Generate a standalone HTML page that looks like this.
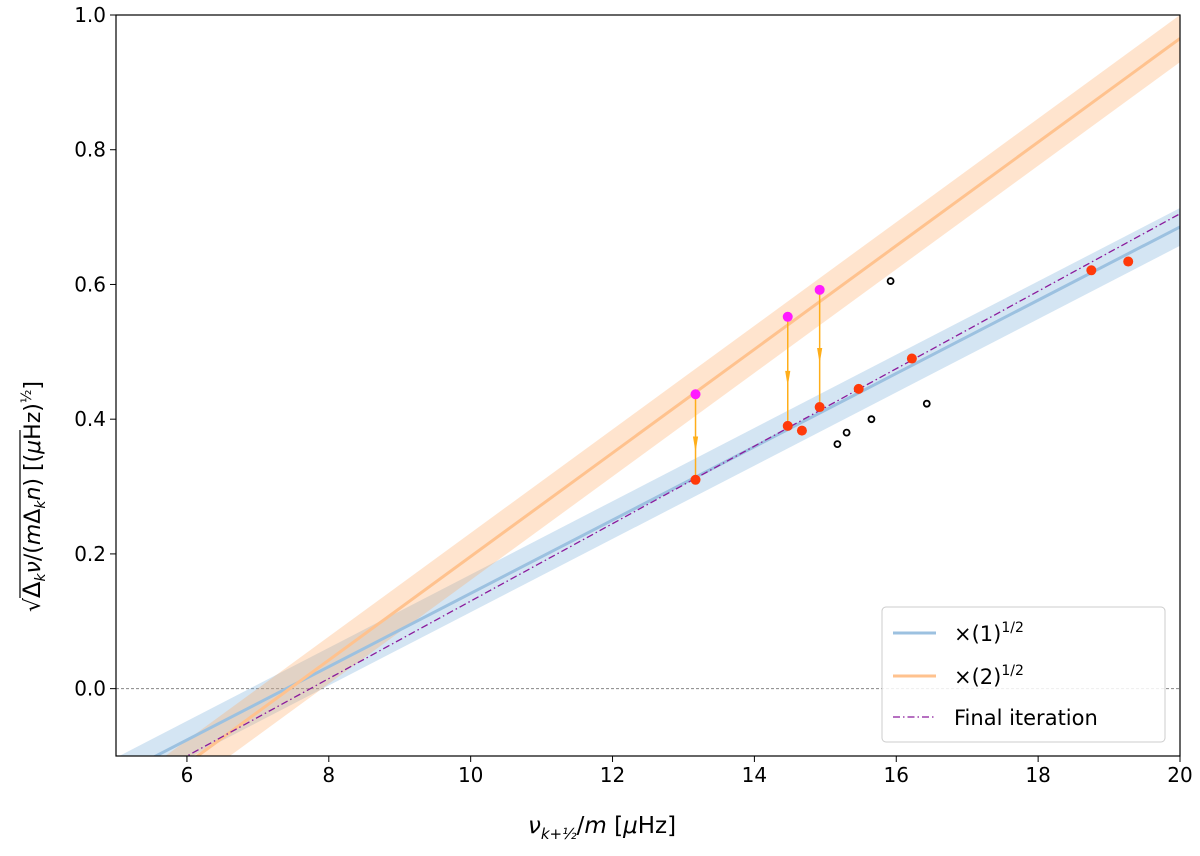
<!DOCTYPE html>
<html><head><meta charset="utf-8"><style>
body{margin:0;background:#fff;}
svg text{font-family:"DejaVu Sans","Liberation Sans",sans-serif;}
</style></head><body>
<svg id="chart" width="1200" height="851" xmlns="http://www.w3.org/2000/svg">
<g id="plot"></g>
</svg>
<script>
const xTicks=[6,8,10,12,14,16,18,20];
const yTicks=[0.0,0.2,0.4,0.6,0.8,1.0];
const blueLine={slope:0.0544,zero:7.4,band:0.028};
const orangeLine={slope:0.0769,zero:7.45,band:0.035};
const finalLine={slope:0.0575,zero:7.74};
const redX=[13.17,14.47,14.67,14.92,15.47,16.22,18.75,19.27];
const redY=[0.31,0.39,0.383,0.418,0.445,0.49,0.621,0.634];
const magX=[13.17,14.47,14.92];
const magY=[0.437,0.552,0.592];
const magTargetY=[0.31,0.39,0.418];
const openX=[15.17,15.3,15.65,15.92,16.43];
const openY=[0.363,0.38,0.4,0.605,0.423];

const L=116,R=1180,T=15,B=756,xmin=5,xmax=20,ymin=-0.1,ymax=1.0;
const sx=v=>L+(v-xmin)/(xmax-xmin)*(R-L);
const sy=v=>B-(v-ymin)/(ymax-ymin)*(B-T);
const NS="http://www.w3.org/2000/svg";
const svg=document.getElementById('chart');
const plot=document.getElementById('plot');
function mk(tag,attrs,parent){const e=document.createElementNS(NS,tag);for(const k in attrs)e.setAttribute(k,attrs[k]);(parent||plot).appendChild(e);return e;}
const defs=mk('defs',{},svg);
const cp=mk('clipPath',{id:'clip'},defs);
mk('rect',{x:L,y:T,width:R-L,height:B-T},cp);
plot.setAttribute('clip-path','url(#clip)');

let z=mk('line',{x1:L,x2:R,y1:sy(0),y2:sy(0),stroke:'#888','stroke-width':1,'stroke-dasharray':'3,2'});



function band(o,color,name){
  const p=`M${sx(xmin)},${sy(o.slope*(xmin-o.zero)+o.band)} L${sx(xmax)},${sy(o.slope*(xmax-o.zero)+o.band)} L${sx(xmax)},${sy(o.slope*(xmax-o.zero)-o.band)} L${sx(xmin)},${sy(o.slope*(xmin-o.zero)-o.band)}Z`;
  const e=mk('path',{d:p,fill:color,'fill-opacity':0.3});
  
  
}
function line(o,color,w,name,dash){
  const e=mk('line',{x1:sx(xmin),y1:sy(o.slope*(xmin-o.zero)),x2:sx(xmax),y2:sy(o.slope*(xmax-o.zero)),stroke:color,'stroke-width':w});
  if(dash)e.setAttribute('stroke-dasharray',dash);
  
  
}
band(blueLine,'#6fa8d6','blue-band');
band(orangeLine,'#ffa55c','orange-band');
line(blueLine,'#9cc1e0',3,'blue-line');
line(orangeLine,'#ffc28e',3,'orange-line');
line(finalLine,'#8b1a9c',1.3,'final-iteration-line','7,3,1.5,3');

magX.forEach((x,i)=>{
  const a=mk('line',{x1:sx(x),y1:sy(magY[i]),x2:sx(x),y2:sy(magTargetY[i]),stroke:'#ffae1a','stroke-width':1.5});
  
  
  const my=(sy(magY[i])+sy(magTargetY[i]))/2+12;
  const h=mk('path',{d:`M${sx(x)-2},${my-12} L${sx(x)+2},${my-12} L${sx(x)},${my}Z`,fill:'#ffae1a',stroke:'#ffae1a'});
  
  
});
redX.forEach((x,i)=>{
  const c=mk('circle',{cx:sx(x),cy:sy(redY[i]),r:5,fill:'#ff3a0a'});
  
  
});
magX.forEach((x,i)=>{
  const c=mk('circle',{cx:sx(x),cy:sy(magY[i]),r:5,fill:'#ff1aff'});
  
  
});
openX.forEach((x,i)=>{
  const c=mk('circle',{cx:sx(x),cy:sy(openY[i]),r:3,fill:'none',stroke:'#000','stroke-width':1.8});
  
  
});

const fr=mk('rect',{x:L,y:T,width:R-L,height:B-T,fill:'none',stroke:'#000','stroke-width':1.2},svg);


xTicks.forEach(t=>{
  mk('line',{x1:sx(t),x2:sx(t),y1:B,y2:B+6,stroke:'#000'},svg);
  const tx=mk('text',{x:sx(t),y:B+26,'text-anchor':'middle','font-size':20},svg);
  tx.textContent=t;
  
  
});
yTicks.forEach(t=>{
  mk('line',{x1:L-6,x2:L,y1:sy(t),y2:sy(t),stroke:'#000'},svg);
  const tx=mk('text',{x:L-10,y:sy(t)+7,'text-anchor':'end','font-size':20},svg);
  tx.textContent=t.toFixed(1);
  
  
});
</script>
<svg style="position:absolute;left:0;top:0" width="1200" height="851" xmlns="http://www.w3.org/2000/svg">
<text x="528" y="833" font-size="23" font-family="DejaVu Sans,sans-serif"><tspan font-style="italic">ν</tspan><tspan font-size="15" dy="6" font-style="italic">k+½</tspan><tspan dy="-6">/</tspan><tspan font-style="italic">m</tspan>  [<tspan font-style="italic">μ</tspan>Hz]</text>
<g transform="translate(40,612) rotate(-90)">
<text x="0" y="0" font-size="22" font-family="DejaVu Sans,sans-serif">√<tspan font-size="24">Δ</tspan><tspan font-size="14" dy="5" font-style="italic">k</tspan><tspan dy="-5" font-style="italic">ν</tspan>/(<tspan font-style="italic">m</tspan>Δ<tspan font-size="14" dy="5" font-style="italic">k</tspan><tspan dy="-5" font-style="italic">n</tspan>)    [(<tspan font-style="italic">μ</tspan>Hz)<tspan font-size="14" dy="-9">½</tspan><tspan dy="9">]</tspan></text>
<line x1="14" y1="-20" x2="182" y2="-20" stroke="#000" stroke-width="1.2"/>
</g>
<g>
<rect x="882" y="607" width="283" height="135" rx="4" fill="#fff" fill-opacity="0.85" stroke="#ccc"/>
<line x1="893" y1="633" x2="936" y2="633" stroke="#9cc1e0" stroke-width="3"/>
<text x="954" y="641" font-size="21" font-family="DejaVu Sans,sans-serif">×(1)<tspan font-size="14" dy="-9">1/2</tspan></text>
<line x1="893" y1="676" x2="936" y2="676" stroke="#ffc28e" stroke-width="3"/>
<text x="954" y="684" font-size="21" font-family="DejaVu Sans,sans-serif">×(2)<tspan font-size="14" dy="-9">1/2</tspan></text>
<line x1="893" y1="717" x2="936" y2="717" stroke="#8b1a9c" stroke-width="1.3" stroke-dasharray="7,3,1.5,3"/>
<text x="954" y="725" font-size="21" font-family="DejaVu Sans,sans-serif">Final iteration</text>
</g>
</svg>
</body></html>
